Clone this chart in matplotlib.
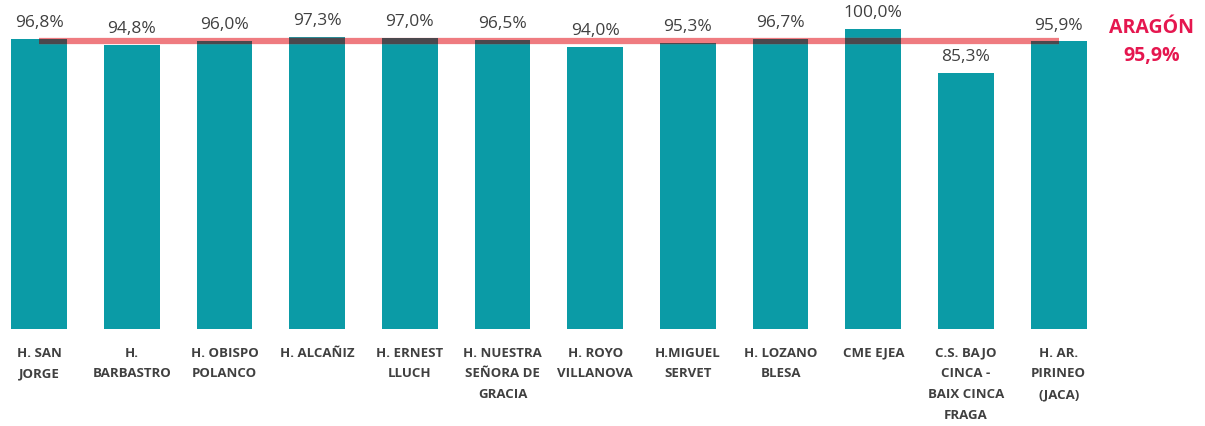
import matplotlib
matplotlib.use("Agg")
import matplotlib.pyplot as plt

plt.rcParams['font.family'] = ['Open Sans', 'DejaVu Sans']

# hospital names as shown under the bars
hospitals = ["H. SAN\nJORGE", "H.\nBARBASTRO", "H. OBISPO\nPOLANCO", "H. ALCAÑIZ",
             "H. ERNEST\nLLUCH", "H. NUESTRA\nSEÑORA DE\nGRACIA", "H. ROYO\nVILLANOVA",
             "H.MIGUEL\nSERVET", "H. LOZANO\nBLESA", "CME EJEA",
             "C.S. BAJO\nCINCA -\nBAIX CINCA\nFRAGA", "H. AR.\nPIRINEO\n(JACA)"]
values = [96.8, 94.8, 96.0, 97.3, 97.0, 96.5, 94.0, 95.3, 96.7, 100.0, 85.3, 95.9]
aragon = 95.9

teal = '#0b9ba6'
red_line = '#ef7b80'
red_text = '#e5174f'

fig = plt.figure(figsize=(12.05, 4.27), dpi=100)
ax = fig.add_axes([0, 97 / 427, 1, 300 / 427])

x = list(range(len(values)))
bars = ax.bar(x, values, width=0.6, color=teal, zorder=2)

# regional average line, darker where it crosses the bars
ax.plot(x, [aragon] * len(x), color=red_line, lw=4.5, zorder=3, clip_on=False,
        solid_capstyle='butt')
for b in bars:
    ln, = ax.plot(x, [aragon] * len(x), color='#4b484d', lw=4.5, zorder=4,
                  solid_capstyle='butt')
    ln.set_clip_path(b)

for xi, v in zip(x, values):
    ax.annotate(f"{v:.1f}%".replace('.', ','), (xi, v), xytext=(0, 12),
                textcoords='offset points', ha='center', va='center',
                fontsize=12.5, color='#404040', annotation_clip=False)

ax.text(len(values), aragon, "ARAGÓN\n" + f"{aragon:.1f}%".replace('.', ','),
        ha='center', va='center', fontsize=14, fontweight='bold', color=red_text,
        linespacing=1.55)

ax.set_xlim(-39 / 92.7, (1205 - 39) / 92.7)
ax.set_ylim(0, 100)
ax.set_xticks(x)
ax.set_xticklabels(hospitals, fontsize=9.5, fontweight='bold', color='#404040',
                   linespacing=1.78, va='top')
ax.tick_params(axis='x', length=0, pad=12)
ax.set_yticks([])
for s in ax.spines.values():
    s.set_visible(False)

fig.savefig('out.png', dpi=100)
